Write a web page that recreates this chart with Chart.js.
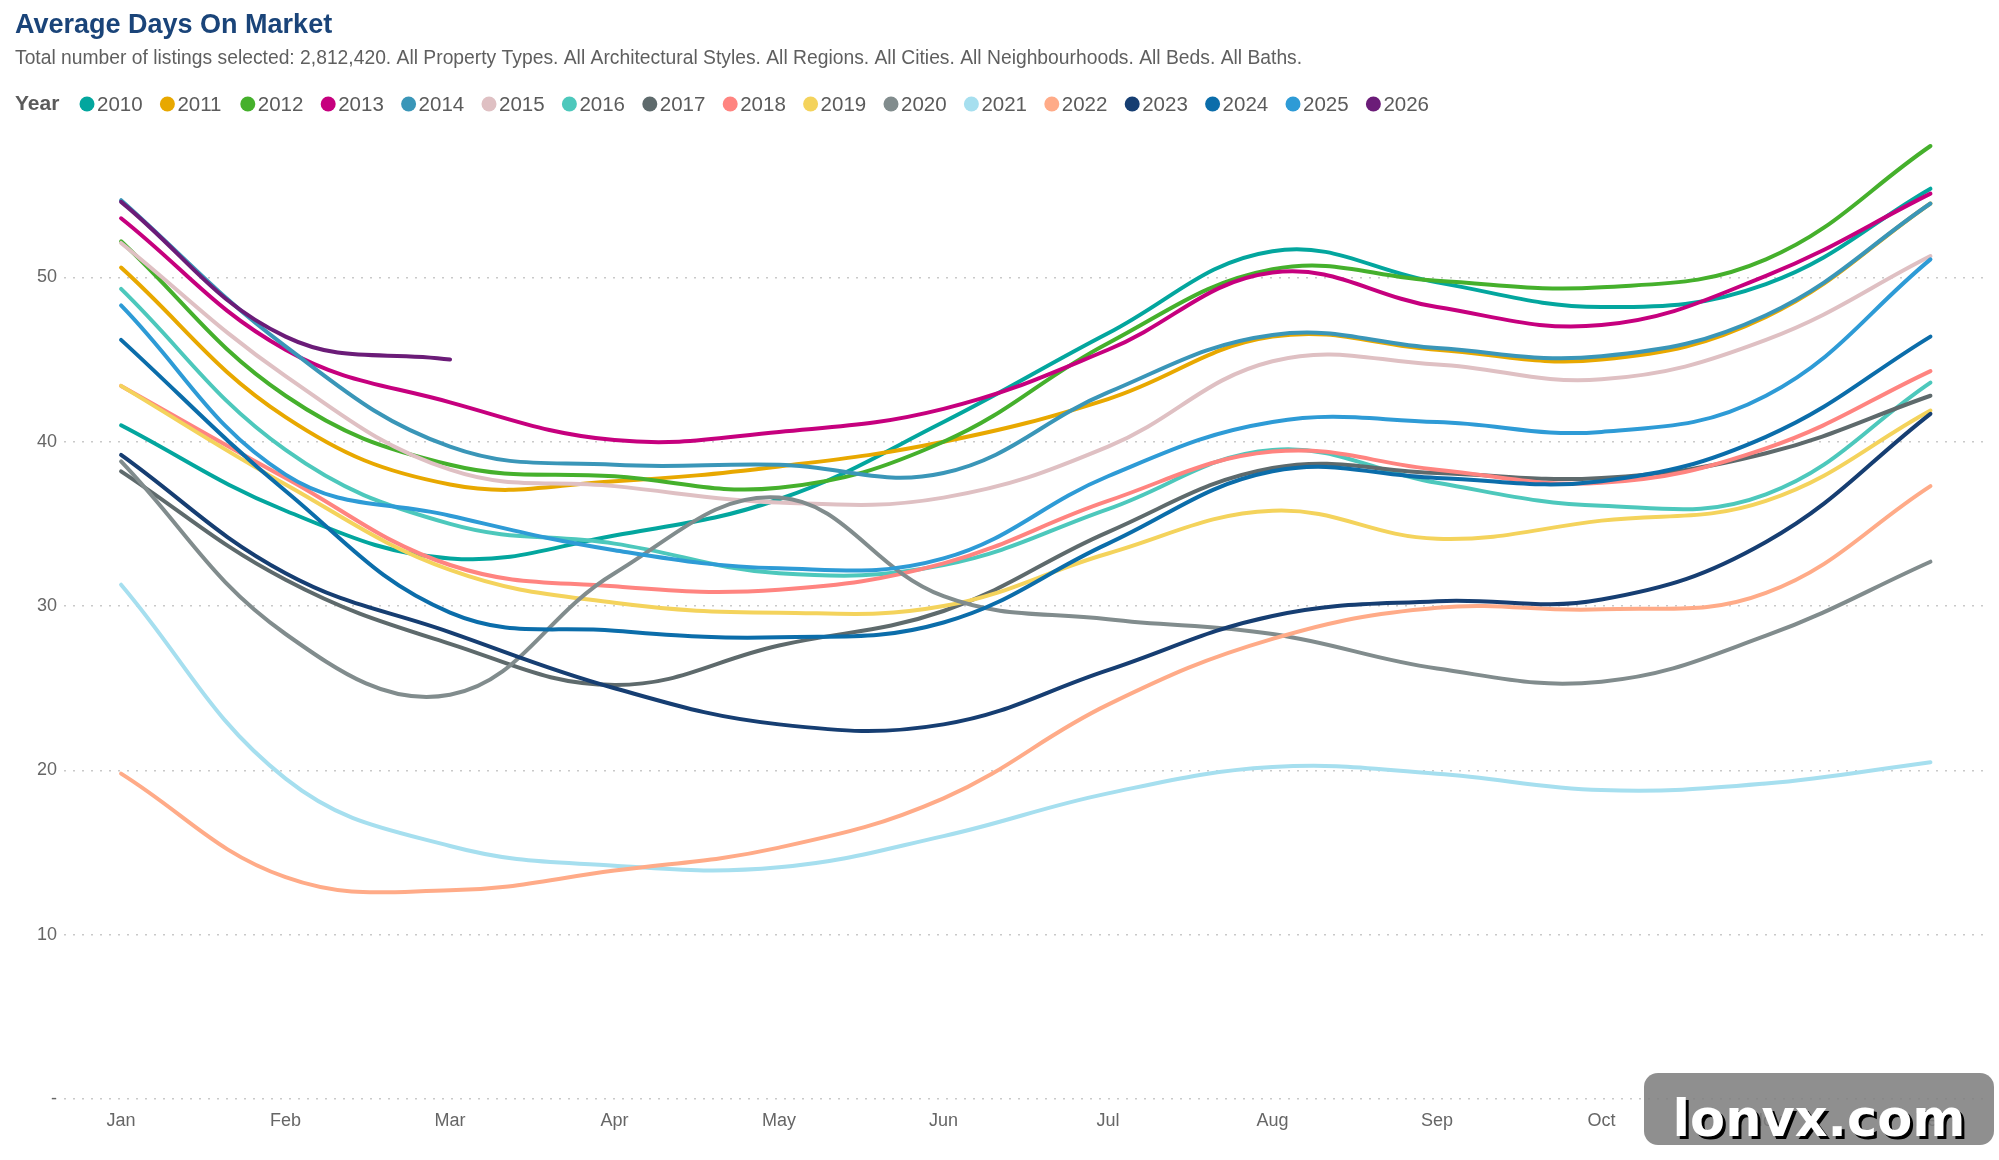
<!DOCTYPE html>
<html>
<head>
<meta charset="utf-8">
<script src="https://cdn.jsdelivr.net/npm/chart.js@4.4.1/dist/chart.umd.min.js"></script>
<style>
  html, body { margin: 0; padding: 0; background: #ffffff; }
  #wrap { position: relative; width: 1999px; height: 1160px; }
  canvas { display: block; }
</style>
</head>
<body>
<div id="wrap"><canvas id="c" width="1999" height="1160"></canvas></div>
<script>
// ---- Data ----
const months = ['Jan','Feb','Mar','Apr','May','Jun','Jul','Aug','Sep','Oct','Nov','Dec'];
const years = ['2010','2011','2012','2013','2014','2015','2016','2017','2018','2019','2020','2021','2022','2023','2024','2025','2026'];
const yTicks = [0, 10, 20, 30, 40, 50];

const s2010 = [41.0, 35.8, 32.9, 34.3, 36.5, 41.2, 46.6, 51.6, 49.7, 48.2, 49.6, 55.4];
const s2011 = [50.6, 41.5, 37.4, 37.6, 38.5, 40.0, 42.6, 46.4, 45.6, 45.0, 47.6, 54.5];
const s2012 = [52.2, 42.8, 38.6, 37.9, 37.2, 40.0, 46.0, 50.5, 49.8, 49.4, 51.1, 58.0];
const s2013 = [53.6, 45.6, 42.4, 40.1, 40.6, 42.0, 45.6, 50.3, 48.2, 47.1, 50.1, 55.1];
const s2014 = [54.7, 45.8, 39.7, 38.6, 38.6, 38.1, 43.0, 46.5, 45.7, 45.2, 47.7, 54.5];
const s2015 = [52.1, 44.0, 38.3, 37.3, 36.3, 36.6, 39.7, 44.9, 44.7, 43.8, 46.2, 51.3];
const s2016 = [49.3, 39.5, 35.0, 33.8, 32.0, 32.5, 35.9, 39.5, 37.5, 36.1, 36.8, 43.6];
const s2017 = [38.2, 31.6, 27.7, 25.2, 27.6, 29.7, 34.5, 38.4, 38.1, 37.8, 39.3, 42.8];
const s2018 = [43.4, 37.8, 32.5, 31.2, 31.0, 32.6, 36.4, 39.4, 38.3, 37.5, 39.6, 44.3];
const s2019 = [43.4, 37.4, 32.2, 30.2, 29.6, 30.0, 33.2, 35.8, 34.1, 35.2, 36.4, 41.9];
const s2020 = [38.8, 28.3, 24.6, 32.0, 36.6, 30.6, 29.2, 28.3, 26.2, 25.4, 28.2, 32.7];
const s2021 = [31.3, 19.5, 15.4, 14.2, 14.1, 16.0, 18.6, 20.2, 19.8, 18.8, 19.2, 20.5];
const s2022 = [19.8, 13.5, 12.7, 13.9, 15.3, 18.3, 24.0, 28.0, 29.9, 29.8, 30.8, 37.3];
const s2023 = [39.2, 32.0, 28.4, 25.0, 22.8, 22.8, 26.1, 29.4, 30.3, 30.4, 33.9, 41.7];
const s2024 = [46.2, 37.0, 29.6, 28.5, 28.1, 29.0, 33.8, 38.2, 37.8, 37.6, 40.3, 46.4];
const s2025 = [48.3, 38.0, 35.5, 33.4, 32.3, 32.9, 37.9, 41.2, 41.2, 40.6, 42.8, 51.1];
const s2026 = [54.6, 46.4, 45.0];

const seriesList = [s2010, s2011, s2012, s2013, s2014, s2015, s2016, s2017, s2018, s2019, s2020, s2021, s2022, s2023, s2024, s2025, s2026];
const colors = ['#03A69E','#E8A800','#45B02C','#C6007E','#3A96B8','#DFC0C3','#4DC8BC','#5E6A6C','#FF8480','#F4D35C','#818C8D','#A6DFEF','#FFAB88','#163E72','#0B6DAA','#2E9BD6','#6B1C78'];

const titleText = 'Average Days On Market';
const subtitleText = 'Total number of listings selected: 2,812,420. All Property Types. All Architectural Styles. All Regions. All Cities. All Neighbourhoods. All Beds. All Baths.';
const legendTitle = 'Year';
const watermarkText = 'lonvx.com';

const datasets = years.map((yr, i) => ({
  label: yr,
  data: seriesList[i].map((v, k) => ({ x: k, y: v })),
  borderColor: colors[i],
  backgroundColor: colors[i],
  borderWidth: 4,
  pointRadius: 0,
  pointHoverRadius: 0,
  tension: 0.4,
  borderCapStyle: 'round',
  borderJoinStyle: 'round',
  fill: false,
  order: -i
}));

// custom legend drawn inline, Power BI style
const inlineLegend = {
  id: 'inlineLegend',
  afterDraw(chart) {
    const ctx = chart.ctx;
    const y = 104;
    ctx.save();
    ctx.textBaseline = 'middle';
    ctx.textAlign = 'left';
    ctx.fillStyle = '#5b5b5b';
    ctx.font = 'bold 21px "Liberation Sans", Arial, sans-serif';
    ctx.fillText(legendTitle, 15, y);
    ctx.font = '20.5px "Liberation Sans", Arial, sans-serif';
    chart.data.datasets.forEach((ds, i) => {
      const cx = 87 + i * 80.4;
      ctx.beginPath();
      ctx.arc(cx, y, 7.5, 0, Math.PI * 2);
      ctx.fillStyle = ds.borderColor;
      ctx.fill();
      ctx.fillStyle = '#5b5b5b';
      ctx.fillText(ds.label, cx + 10, y + 1);
    });
    ctx.restore();
  }
};

const watermark = {
  id: 'watermark',
  afterDraw(chart) {
    const ctx = chart.ctx;
    ctx.save();
    const x = 1644, y = 1073, w = 350, h = 72, r = 14;
    ctx.beginPath();
    ctx.moveTo(x + r, y);
    ctx.arcTo(x + w, y, x + w, y + h, r);
    ctx.arcTo(x + w, y + h, x, y + h, r);
    ctx.arcTo(x, y + h, x, y, r);
    ctx.arcTo(x, y, x + w, y, r);
    ctx.closePath();
    ctx.fillStyle = 'rgba(125,125,125,0.86)';
    ctx.fill();
    ctx.font = 'bold 51px "DejaVu Sans", Verdana, sans-serif';
    ctx.textAlign = 'center';
    ctx.textBaseline = 'alphabetic';
    ctx.fillStyle = '#000000';
    ctx.fillText(watermarkText, x + w / 2 + 3, 1136 + 3);
    ctx.fillStyle = '#ffffff';
    ctx.fillText(watermarkText, x + w / 2, 1136);
    ctx.restore();
  }
};

new Chart(document.getElementById('c'), {
  type: 'line',
  data: { datasets },
  options: {
    responsive: false,
    animation: false,
    devicePixelRatio: 1,
    layout: { padding: { left: 15, right: 9, top: 0, bottom: 0 } },
    plugins: {
      legend: { display: false },
      tooltip: { enabled: false },
      title: {
        display: true,
        text: titleText,
        align: 'start',
        color: '#1A4479',
        font: { family: '"Liberation Sans", Arial, sans-serif', size: 27, weight: 'bold', lineHeight: 1.2 },
        padding: { top: 9, bottom: 0 }
      },
      subtitle: {
        display: true,
        text: subtitleText,
        align: 'start',
        color: '#5f5f5f',
        font: { family: '"Liberation Sans", Arial, sans-serif', size: 19.3, lineHeight: 1.2 },
        padding: { top: 6, bottom: 59 }
      }
    },
    scales: {
      x: {
        type: 'linear',
        min: -0.347,
        max: 11.362,
        afterBuildTicks(scale) { scale.ticks = months.map((m, i) => ({ value: i })); },
        afterFit(scale) { scale.height = 61; },
        grid: { display: false, drawTicks: false },
        border: { display: false },
        ticks: {
          autoSkip: false,
          maxRotation: 0,
          padding: 11,
          color: '#666666',
          font: { family: '"Liberation Sans", Arial, sans-serif', size: 18 },
          callback: (v) => months[v]
        }
      },
      y: {
        type: 'linear',
        min: 0,
        max: 59,
        afterBuildTicks(scale) { scale.ticks = yTicks.map(v => ({ value: v })); },
        afterFit(scale) { scale.width = 49; },
        grid: {
          drawTicks: false,
          color: '#c9c9c9',
          lineWidth: 1.5
        },
        border: { display: false, dash: [2, 7] },
        ticks: {
          padding: 7,
          color: '#666666',
          font: { family: '"Liberation Sans", Arial, sans-serif', size: 18 },
          callback: (v) => (v === 0 ? '-' : String(v))
        }
      }
    }
  },
  plugins: [inlineLegend, watermark]
});
</script>
</body>
</html>
